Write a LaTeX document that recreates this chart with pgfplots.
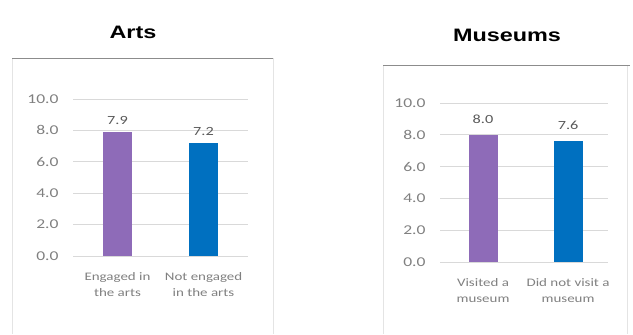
\documentclass[border=0pt]{standalone}
\usepackage{fontspec}
\setmainfont[FakeStretch=1.3]{Carlito}
\newfontfamily\titlefont[FakeStretch=1.3]{Liberation Sans}
\usepackage{pgfplots}
\pgfplotsset{compat=1.18}
\definecolor{barpurple}{HTML}{8E6BB8}
\definecolor{barblue}{HTML}{0070C0}
\definecolor{gridgray}{HTML}{D9D9D9}
\definecolor{ticktext}{HTML}{808080}
\definecolor{valtext}{HTML}{595959}
\pgfplotsset{
  panel/.style={
    scale only axis,
    anchor=south west,
    ymin=0, ymax=10,
    ytick={0,2,4,6,8,10},
    ymajorgrids,
    grid style={gridgray, line width=0.8bp},
    axis line style={draw=none},
    major tick length=0pt,
    xtick={0,1},
    /pgf/number format/assume math mode=true,
    yticklabel={\pgfmathprintnumber[fixed,fixed zerofill,precision=1]{\tick}},
    yticklabel style={font=\fontsize{13.5bp}{15bp}\selectfont, color=ticktext, xshift=-11bp},
    xticklabel style={font=\fontsize{11.5bp}{16bp}\selectfont, color=ticktext, align=center, yshift=-13bp},
    nodes near coords={\pgfmathprintnumber[fixed,fixed zerofill,precision=1]{\pgfplotspointmeta}},
    every node near coord/.append style={font=\fontsize{12.5bp}{14bp}\selectfont, color=valtext},
    clip=false,
  },
}
\begin{document}
\begin{tikzpicture}[x=1bp,y=1bp]
\useasboundingbox (0,0) rectangle (633,334);
% panel frames
\draw[color=gridgray!70!white, line width=0.8bp] (12,276) -- (12,0);
\draw[color=gridgray!70!white, line width=0.8bp] (273,276) -- (273,0);
\draw[color=black!45, line width=0.8bp] (12,276) -- (273,276);
\draw[color=gridgray!70!white, line width=0.8bp] (383,269) -- (383,0);
\draw[color=gridgray!70!white, line width=0.8bp] (627,269) -- (627,0);
\draw[color=black!45, line width=0.8bp] (383,269) -- (630,269);
% titles
\node[font=\titlefont\bfseries\fontsize{18bp}{20bp}\selectfont] at (133,302) {Arts};
\node[font=\titlefont\bfseries\fontsize{18bp}{20bp}\selectfont] at (507,299) {Museums};

\begin{axis}[panel,
  at={(73bp,78bp)}, width=175bp, height=157bp,
  xmin=-0.517, xmax=1.517,
  xticklabels={{Engaged in\\the arts},{Not engaged\\in the arts}},
  every node near coord/.append style={yshift=4bp},
]
\addplot[ybar, bar width=29bp, bar shift=0pt, fill=barpurple, draw=none] coordinates {(0,7.9)};
\addplot[ybar, bar width=29bp, bar shift=0pt, fill=barblue, draw=none] coordinates {(1,7.2)};
\end{axis}

\begin{axis}[panel,
  at={(440bp,72bp)}, width=168bp, height=159bp,
  xmin=-0.506, xmax=1.47,
  xticklabels={{Visited a\\museum},{Did not visit a\\museum}},
  every node near coord/.append style={yshift=8bp},
]
\addplot[ybar, bar width=29bp, bar shift=0pt, fill=barpurple, draw=none] coordinates {(0,8.0)};
\addplot[ybar, bar width=29bp, bar shift=0pt, fill=barblue, draw=none] coordinates {(1,7.6)};
\end{axis}
\end{tikzpicture}
\end{document}
